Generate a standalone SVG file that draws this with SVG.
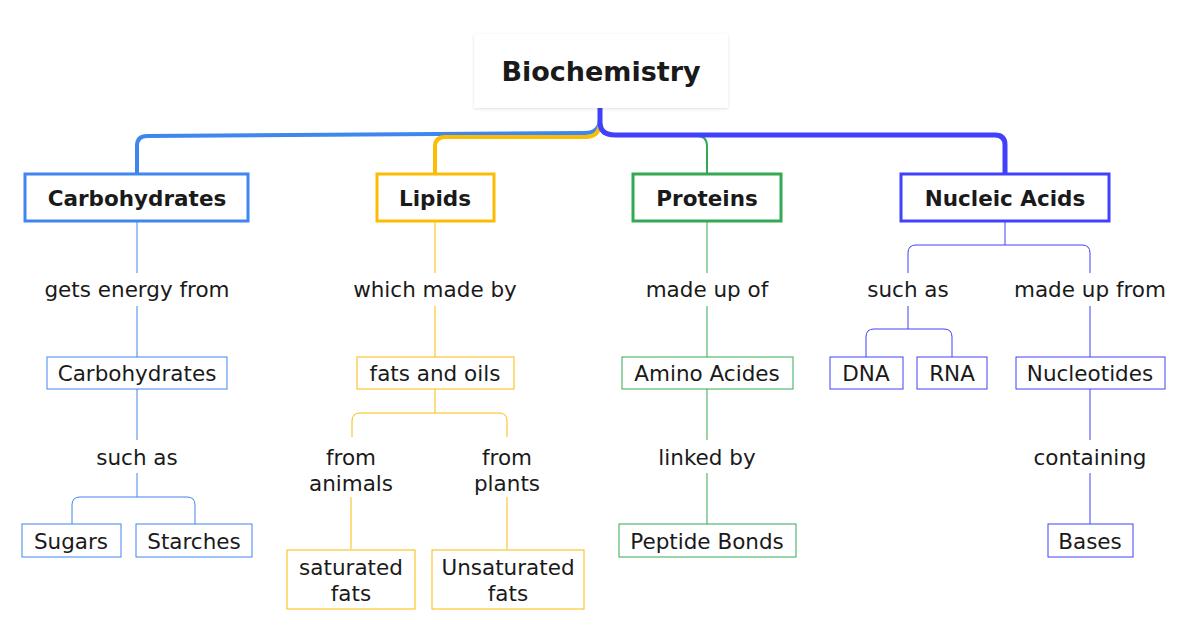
<svg xmlns="http://www.w3.org/2000/svg" width="1200" height="630" viewBox="0 0 1200 630">
<defs>
<filter id="sh" x="-10%" y="-10%" width="120%" height="130%"><feDropShadow dx="0" dy="1" stdDeviation="1.5" flood-color="#000" flood-opacity="0.12"/></filter>
</defs>
<style>
text{font-family:"DejaVu Sans","Liberation Sans",sans-serif;fill:#1a1a1a;text-anchor:middle;dominant-baseline:central;font-size:21.5px}
.b{font-weight:bold}
.r{font-size:27px}
.n{fill:#fff}
.c1{stroke:#3f86ef}.c2{stroke:#fbbc04}.c3{stroke:#34a853}.c4{stroke:#4141fb}
.l{fill:none;stroke-width:1}
.t{fill:none;stroke-width:3}
</style>
<rect width="1200" height="630" fill="#fff"/>
<g id="connectors" fill="none">
<path class="c1" stroke-width="4" d="M600,118 Q600,133 585,133 L147,136 Q137,136 137,146 L137,174"/>
<path class="c2" stroke-width="4" d="M600,122 Q600,137 585,137 L445,137 Q435,137 435,147 L435,174"/>
<path class="c3" stroke-width="2" d="M600,125 Q600,136 615,136 L697,136 Q707,136 707,146 L707,174"/>
<path class="c4" stroke-width="5" d="M600,108 L600,122 Q600,135 615,135 L995,135 Q1005,135 1005,145 L1005,174"/>
<g class="l">
<path class="c1" d="M137,221V273M137,306V357M137,389V440M137,473V497M72,524V505Q72,497 80,497H187Q195,497 195,505V524"/>
<path class="c2" d="M435,221V273M435,306V357M435,389V413M352,437V421Q352,413 360,413H499Q507,413 507,421V437M351,497V549M507,497V549"/>
<path class="c3" d="M707,221V273M707,306V357M707,389V440M707,473V524"/>
<path class="c4" d="M1005,221V245M908,273V253Q908,245 916,245H1082Q1090,245 1090,253V273M908,306V329M866,357V337Q866,329 874,329H944Q952,329 952,337V357M1090,306V357M1090,389V440M1090,473V524"/>
</g>
</g>
<g id="root"><rect class="n" x="474" y="34" width="254" height="74" filter="url(#sh)"/><text class="b r" x="601" y="71">Biochemistry</text></g>
<g id="carbohydrates"><rect class="n t c1" x="25" y="174" width="223" height="47"/><text class="b" x="137" y="198">Carbohydrates</text></g>
<g id="lipids"><rect class="n t c2" x="377" y="174" width="117" height="47"/><text class="b" x="435" y="198">Lipids</text></g>
<g id="proteins"><rect class="n t c3" x="633" y="174" width="148" height="47"/><text class="b" x="707" y="198">Proteins</text></g>
<g id="nucleic"><rect class="n t c4" x="901" y="174" width="208" height="47"/><text class="b" x="1005" y="198">Nucleic Acids</text></g>
<g id="lab1"><text x="137" y="289">gets energy from</text></g>
<g id="lab2"><text x="435" y="289">which made by</text></g>
<g id="lab3"><text x="707" y="289">made up of</text></g>
<g id="lab4"><text x="908" y="289">such as</text></g>
<g id="lab5"><text x="1090" y="289">made up from</text></g>
<g id="lab6"><text x="137" y="457">such as</text></g>
<g id="lab7"><text x="351" y="457">from</text><text x="351" y="483">animals</text></g>
<g id="lab8"><text x="507" y="457">from</text><text x="507" y="483">plants</text></g>
<g id="lab9"><text x="707" y="457">linked by</text></g>
<g id="lab10"><text x="1090" y="457">containing</text></g>
<g id="carb2"><rect class="n l c1" x="47" y="357" width="180" height="32"/><text x="137" y="373">Carbohydrates</text></g>
<g id="sugars"><rect class="n l c1" x="22" y="524" width="99" height="33"/><text x="71" y="541">Sugars</text></g>
<g id="starches"><rect class="n l c1" x="136" y="524" width="116" height="33"/><text x="194" y="541">Starches</text></g>
<g id="fats"><rect class="n l c2" x="357" y="357" width="157" height="32"/><text x="435" y="373">fats and oils</text></g>
<g id="satfats"><rect class="n l c2" x="287" y="550" width="128" height="59"/><text x="351" y="567">saturated</text><text x="351" y="593">fats</text></g>
<g id="unsatfats"><rect class="n l c2" x="432" y="550" width="152" height="59"/><text x="508" y="567">Unsaturated</text><text x="508" y="593">fats</text></g>
<g id="amino"><rect class="n l c3" x="622" y="357" width="171" height="32"/><text x="707" y="373">Amino Acides</text></g>
<g id="peptide"><rect class="n l c3" x="619" y="524" width="177" height="33"/><text x="707" y="541">Peptide Bonds</text></g>
<g id="dna"><rect class="n l c4" x="830" y="357" width="73" height="32"/><text x="866" y="373">DNA</text></g>
<g id="rna"><rect class="n l c4" x="917" y="357" width="70" height="32"/><text x="952" y="373">RNA</text></g>
<g id="nucleotides"><rect class="n l c4" x="1016" y="357" width="149" height="32"/><text x="1090" y="373">Nucleotides</text></g>
<g id="bases"><rect class="n l c4" x="1048" y="524" width="85" height="33"/><text x="1090" y="541">Bases</text></g>
</svg>
